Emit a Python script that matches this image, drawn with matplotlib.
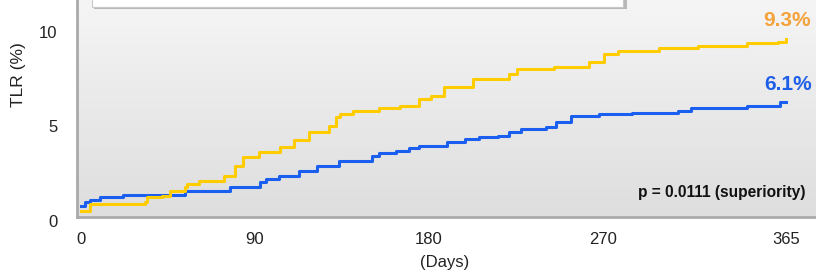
import numpy as np
import matplotlib
matplotlib.use("Agg")
import matplotlib.pyplot as plt
import matplotlib.transforms as mtransforms
from matplotlib.colors import LinearSegmentedColormap
from matplotlib.patches import Rectangle

plt.rcParams['font.family'] = ['Liberation Sans', 'DejaVu Sans']

# Kaplan-Meier style cumulative TLR (%)
days_yellow = [0, 4.6, 33, 34, 42, 46, 54, 55, 61, 74, 79.5, 83.6, 92, 103, 110, 118,
               128.5, 132, 134, 141, 154, 165, 175, 181, 188, 203, 221.5, 225.6, 245,
               263, 270.5, 278, 299, 319.5, 345, 361, 365]
tlr_yellow = [0.32, 0.68, 0.79, 1.05, 1.1, 1.37, 1.58, 1.74, 1.9, 2.16, 2.68, 3.16, 3.42,
              3.68, 4.05, 4.47, 4.8, 5.26, 5.42, 5.58, 5.74, 5.84, 6.2, 6.37, 6.84, 7.26,
              7.53, 7.79, 7.9, 8.2, 8.58, 8.74, 8.9, 9.0, 9.2, 9.26, 9.37]

days_blue = [0, 2, 4.6, 9.8, 21.7, 53.7, 77, 92.4, 96, 102.7, 113, 122, 133.7, 150.7,
             154.4, 163, 170, 175, 189.5, 199, 206, 216, 221.5, 228, 240.6, 246, 253.5,
             268, 285, 309, 316, 345, 362, 365]
tlr_blue = [0.58, 0.79, 0.9, 1.05, 1.16, 1.37, 1.58, 1.84, 2.0, 2.16, 2.45, 2.68, 2.95,
            3.2, 3.4, 3.47, 3.63, 3.74, 3.95, 4.1, 4.2, 4.3, 4.47, 4.63, 4.74, 5.0, 5.32,
            5.42, 5.5, 5.58, 5.75, 5.84, 6.05, 6.05]

x_ticks = [0, 90, 180, 270, 365]
y_ticks = [0, 5, 10]
label_yellow = "9.3%"
label_blue = "6.1%"
p_text = "p = 0.0111 (superiority)"

fig = plt.figure(figsize=(8.16, 2.73), dpi=100)
ax = fig.add_axes([77 / 816, 1 - 217 / 273, 1 - 77 / 816, 217 / 273])

# grey gradient background
grad = np.linspace(0, 1, 256).reshape(-1, 1)
cmap = LinearSegmentedColormap.from_list("bg", ["#dedede", "#e9e9e9", "#f5f5f5"])
ax.imshow(grad, extent=[0, 1, 0, 1], transform=ax.transAxes, aspect='auto',
          cmap=cmap, origin='lower', zorder=0)

ax.step(days_blue, tlr_blue, where='post', color='#1a5ff0', lw=2.2, zorder=3)
ax.step(days_yellow, tlr_yellow, where='post', color='#ffcc00', lw=2.2, zorder=4)

ax.set_xlim(-2.1, 380.5)
ax.set_ylim(0, 11.45)
ax.set_xticks(x_ticks)
ax.set_yticks(y_ticks)
ax.tick_params(length=0, labelsize=12, colors='#222222')
ax.tick_params(axis='y', pad=14)
ax.tick_params(axis='x', pad=11)
# y labels sit a few pixels lower than the value in the source
shift = mtransforms.ScaledTranslation(0, -3 / 72, fig.dpi_scale_trans)
for lab in ax.get_yticklabels():
    lab.set_transform(lab.get_transform() + shift)
for side in ['top', 'right']:
    ax.spines[side].set_visible(False)
for side in ['left', 'bottom']:
    ax.spines[side].set_color('#aaaaaa')
    ax.spines[side].set_linewidth(2)

fig.text(18 / 816, 1 - 75 / 273, "TLR (%)", fontsize=12.5, color='#222222',
         rotation=90, ha='center', va='center')
fig.text(445 / 816, 1 - 263 / 273, "(Days)", fontsize=12, color='#222222',
         ha='center', va='center')

fig.text(811 / 816, 1 - 20 / 273, label_yellow, fontsize=15, fontweight='bold',
         color='#f5a23a', ha='right', va='center')
fig.text(812 / 816, 1 - 84 / 273, label_blue, fontsize=15, fontweight='bold',
         color='#1f5fe8', ha='right', va='center')
fig.text(806 / 816, 1 - 192 / 273, p_text, fontsize=11.2, fontweight='bold',
         color='#111111', ha='right', va='center')

# top box (legend frame cut off by the crop)
fig.patches.append(Rectangle((94 / 816, 1 - 9 / 273), 533 / 816, 12 / 273,
                             transform=fig.transFigure, facecolor='#b8b8b8',
                             edgecolor='none', zorder=5))
fig.patches.append(Rectangle((92 / 816, 1 - 7 / 273), 531 / 816, 10 / 273,
                             transform=fig.transFigure, facecolor='white',
                             edgecolor='#c8c8c8', lw=0.8, zorder=6))

fig.savefig("out.png", dpi=100)
